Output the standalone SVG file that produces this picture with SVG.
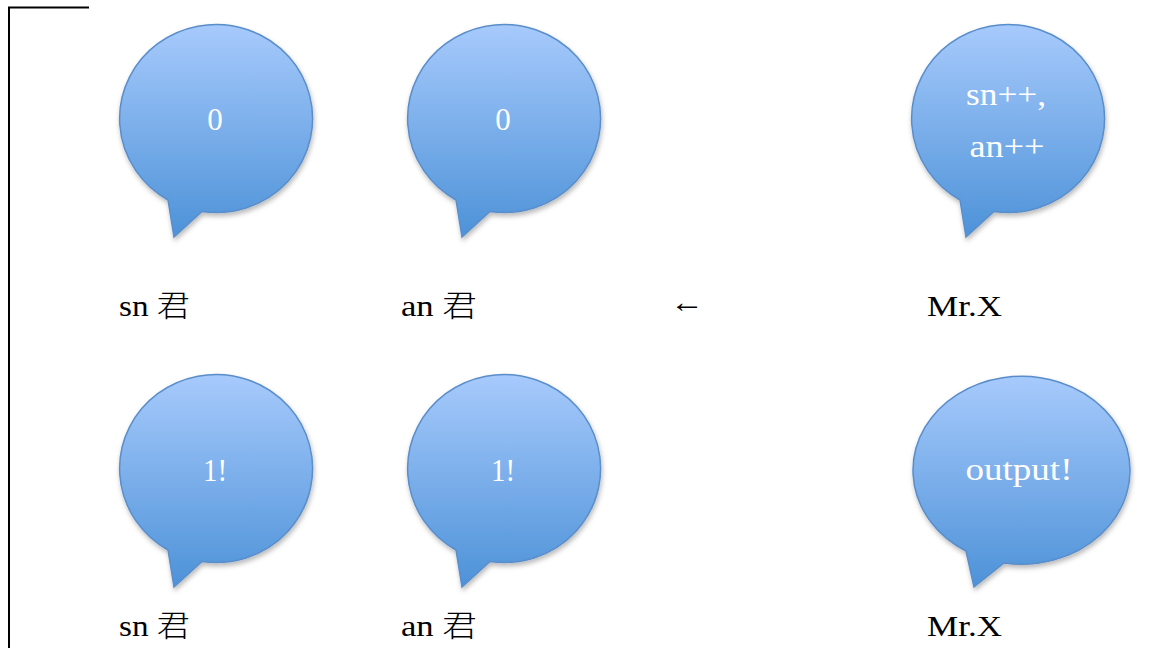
<svg xmlns="http://www.w3.org/2000/svg" width="1165" height="648" viewBox="0 0 1165 648">
<defs>
<linearGradient id="g" x1="0" y1="0" x2="0" y2="1">
<stop offset="0" stop-color="#a7cafc"/>
<stop offset="1" stop-color="#4d92d8"/>
</linearGradient>
<filter id="sh" x="-10%" y="-10%" width="125%" height="125%">
<feDropShadow dx="1" dy="3" stdDeviation="2.5" flood-color="#000" flood-opacity="0.28"/>
</filter>
<path id="bub" d="M168,200 A96.5,94 0 1,1 202,211.5 L174,237 Z"/>
</defs>
<style>
.b{fill:url(#g);stroke:#5a8ecb;stroke-width:1.5;filter:url(#sh)}
.t{font-family:"Liberation Serif","Noto Sans CJK JP",serif;font-size:31px;fill:#fff;text-anchor:middle}
.l{font-family:"Liberation Serif","Noto Sans CJK JP",serif;font-size:30px;fill:#000}
.k{font-weight:300}
</style>
<g id="frame"><path d="M9,648 V7.5 H89" fill="none" stroke="#000" stroke-width="2"/></g>
<g id="bubble-sn-top"><use href="#bub" class="b"/><text class="t" x="215" y="130">0</text></g>
<g id="bubble-an-top"><use href="#bub" class="b" transform="translate(288,0)"/><text class="t" x="503" y="130">0</text></g>
<g id="bubble-x-top"><use href="#bub" class="b" transform="translate(792,0)"/><text class="t" x="1006" y="105" textLength="80" lengthAdjust="spacingAndGlyphs">sn++,</text><text class="t" x="1007" y="157" textLength="75" lengthAdjust="spacingAndGlyphs">an++</text></g>
<g id="label-sn-top"><text class="l" x="119" y="316" textLength="71" lengthAdjust="spacingAndGlyphs">sn <tspan class="k">君</tspan></text></g>
<g id="label-an-top"><text class="l" x="401" y="316" textLength="76" lengthAdjust="spacingAndGlyphs">an <tspan class="k">君</tspan></text></g>
<g id="arrow-label"><text class="l" x="670" y="312" textLength="34" lengthAdjust="spacingAndGlyphs">←</text></g>
<g id="label-x-top"><text class="l" x="927" y="316" textLength="75" lengthAdjust="spacingAndGlyphs">Mr.X</text></g>
<g id="bubble-sn-bot"><use href="#bub" class="b" transform="translate(0,350)"/><text class="t" x="215" y="481" textLength="24" lengthAdjust="spacingAndGlyphs">1!</text></g>
<g id="bubble-an-bot"><use href="#bub" class="b" transform="translate(288,350)"/><text class="t" x="503" y="481" textLength="24" lengthAdjust="spacingAndGlyphs">1!</text></g>
<g id="bubble-x-bot"><path class="b" d="M966,551 A108.5,94 0 1,1 1004,563 L974,587 Z"/><text class="t" x="1019" y="480" textLength="107" lengthAdjust="spacingAndGlyphs">output!</text></g>
<g id="label-sn-bot"><text class="l" x="119" y="636" textLength="71" lengthAdjust="spacingAndGlyphs">sn <tspan class="k">君</tspan></text></g>
<g id="label-an-bot"><text class="l" x="401" y="636" textLength="76" lengthAdjust="spacingAndGlyphs">an <tspan class="k">君</tspan></text></g>
<g id="label-x-bot"><text class="l" x="927" y="636" textLength="75" lengthAdjust="spacingAndGlyphs">Mr.X</text></g>
<g id="connectors"></g>
</svg>
